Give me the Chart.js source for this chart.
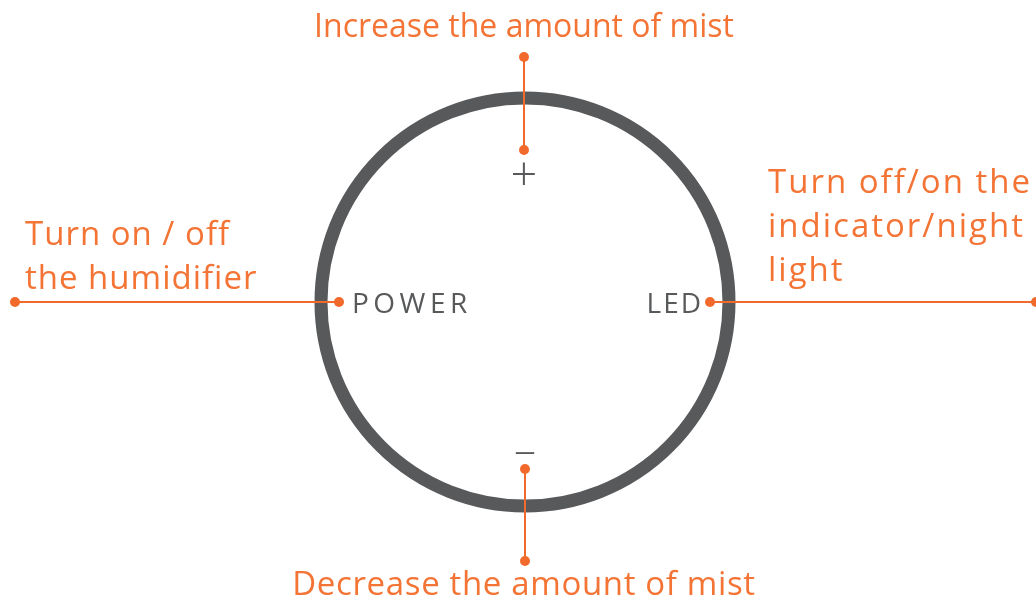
<!DOCTYPE html>
<html>
<head>
<meta charset="utf-8">
<title>Humidifier control panel</title>
<script src="https://cdn.jsdelivr.net/npm/chart.js@4.4.1/dist/chart.umd.min.js"></script>
<style>
	html, body { margin: 0; padding: 0; background: #ffffff; }
	canvas { display: block; }
</style>
</head>
<body>
<canvas id="panel" width="1036" height="602"></canvas>
<script>
// callout leaders, one entry per control: start dot -> end dot (diagram units)
var calloutNames = ['power', 'led', 'increase', 'decrease'];
var calloutFromX = [15, 1036, 524, 525];
var calloutFromY = [302, 302, 57, 561];
var calloutToX = [339, 710, 524, 525];
var calloutToY = [302, 302, 150, 469];

// the round control ring
var dialCenter = [525, 302];
var dialRadius = [204];

// labels printed on the ring
var buttonLabels = ['POWER', 'LED', '+', '\u2014'];
var buttonX = [352, 703, 524, 525];
var buttonY = [313, 313, 191, 458];

// orange captions, first baseline of each block
var captionLines = [
	['Turn on / off', 'the humidifier'],
	['Turn off/on the', 'indicator/night', 'light'],
	['Increase the amount of mist'],
	['Decrease the amount of mist']
];
var captionX = [25, 768, 524, 524];
var captionY = [245, 193, 37, 595];

var ORANGE = '#f26a2b';
var ORANGE_TEXT = '#f37435';
var GREY = '#58595b';
var FONT = '"Open Sans", "Noto Sans", sans-serif';

var buttonAlign = ['left', 'right', 'center', 'center'];
var buttonFont = ['28px', '28px', '300 47px', '600 20px'];
var buttonSpacing = ['4.5px', '2px', '0px', '0px'];
var captionAlign = ['left', 'left', 'center', 'center'];
var captionFont = ['33px', '33px', '32px', '33px'];
var captionSpacing = ['1px', '2px', '0px', '0.65px'];
var lineGap = 44;

function buildDatasets()
{
	var sets = [];
	calloutNames.forEach((name, i) => {
		sets.push({
			label: name,
			type: 'line',
			data: [
				{x: calloutFromX[i], y: calloutFromY[i]},
				{x: calloutToX[i], y: calloutToY[i]}
			],
			showLine: true,
			borderColor: ORANGE,
			borderWidth: 2,
			pointRadius: 5,
			pointBorderWidth: 0,
			pointBackgroundColor: ORANGE,
			clip: false
		});
	});

	// ring last so the leaders sit on top of it
	sets.push({
		label: 'dial',
		type: 'scatter',
		data: [{x: dialCenter[0], y: dialCenter[1]}],
		pointRadius: function(ctx)
		{
			var xs = ctx.chart.scales.x;
			return xs.getPixelForValue(dialCenter[0] + dialRadius[0]) - xs.getPixelForValue(dialCenter[0]);
		},
		pointBorderWidth: 13,
		pointBorderColor: GREY,
		pointBackgroundColor: 'rgba(0,0,0,0)',
		clip: false
	});
	return sets;
}

var textPlugin = {
	id: 'panelText',
	afterDatasetsDraw(chart)
	{
		var ctx = chart.ctx;
		var xs = chart.scales.x;
		var ys = chart.scales.y;
		ctx.save();
		ctx.textBaseline = 'alphabetic';

		ctx.fillStyle = GREY;
		buttonLabels.forEach((txt, i) => {
			ctx.font = buttonFont[i] + ' ' + FONT;
			ctx.letterSpacing = buttonSpacing[i];
			ctx.textAlign = buttonAlign[i];
			ctx.fillText(txt, xs.getPixelForValue(buttonX[i]), ys.getPixelForValue(buttonY[i]));
		});

		ctx.fillStyle = ORANGE_TEXT;
		captionLines.forEach((lines, i) => {
			ctx.font = captionFont[i] + ' ' + FONT;
			ctx.letterSpacing = captionSpacing[i];
			ctx.textAlign = captionAlign[i];
			lines.forEach((line, k) => {
				ctx.fillText(line, xs.getPixelForValue(captionX[i]), ys.getPixelForValue(captionY[i] + k * lineGap));
			});
		});
		ctx.restore();
	}
};

var chart = new Chart(document.getElementById('panel').getContext('2d'), {
	type: 'scatter',
	data: {datasets: buildDatasets()},
	options: {
		responsive: false,
		animation: false,
		devicePixelRatio: 1,
		events: [],
		layout: {padding: 0, autoPadding: false},
		plugins: {
			legend: {display: false},
			tooltip: {enabled: false}
		},
		scales: {
			x: {type: 'linear', min: 0, max: 1036, display: false},
			y: {type: 'linear', min: 0, max: 602, reverse: true, display: false}
		}
	},
	plugins: [textPlugin]
});
</script>
</body>
</html>
